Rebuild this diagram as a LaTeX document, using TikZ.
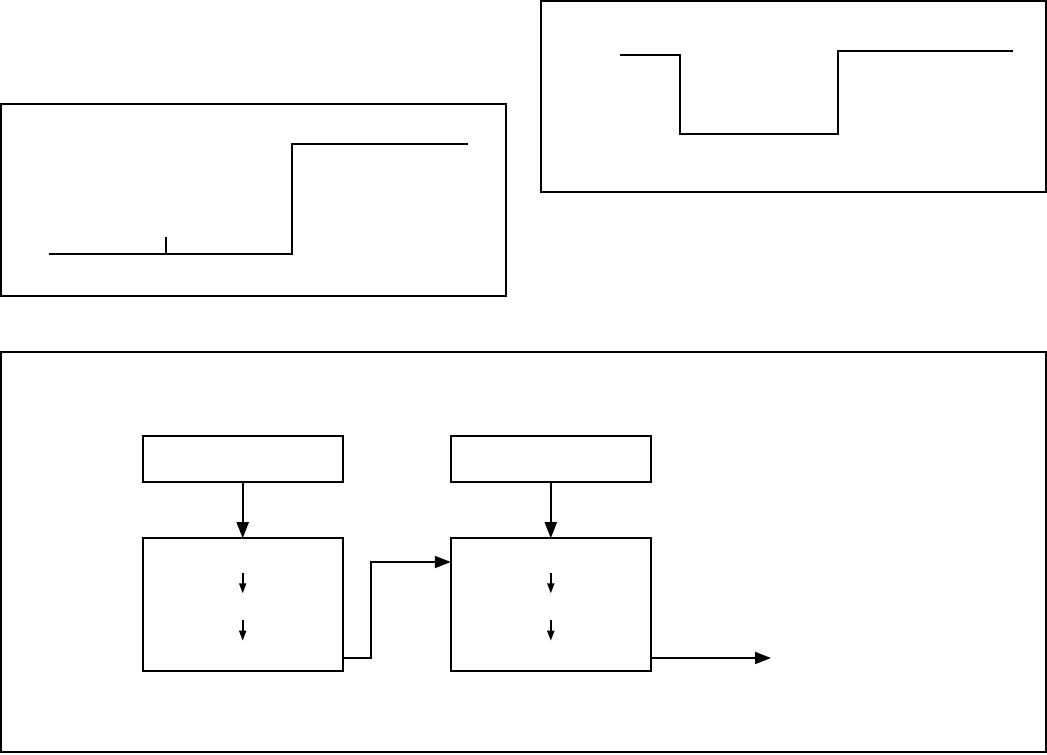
\documentclass[tikz,border=0pt]{standalone}
\usetikzlibrary{arrows.meta}

\tikzset{
  blk/.style={draw, line width=1.1pt, inner sep=0pt, outer sep=0pt, minimum width=4cm},
  conn/.style={line width=1.1pt, -{Triangle[length=0.32cm,width=0.24cm]}},
  smallarr/.style={line width=1pt, -{Triangle[length=0.2cm,width=0.14cm]}}
}

\begin{document}
\begin{tikzpicture}[x=0.02cm,y=-0.02cm]
\useasboundingbox (0,0) rectangle (1047,754);

% top left panel: single step
\draw[line width=1.1pt] (1,104) rectangle (506,296);
\draw[line width=1pt] (49,254) -- (292,254) -- (292,144) -- (468,144);
\draw[line width=1pt] (166,254) -- (166,237);

% top right panel: dip
\draw[line width=1.1pt] (541,1) rectangle (1046,192);
\draw[line width=1pt] (620,54.7) -- (679.7,54.7) -- (679.7,133.7)
  -- (837.7,133.7) -- (837.7,50.7) -- (1012.7,50.7);

% bottom panel: two stages
\draw[line width=1.1pt] (1,352) rectangle (1046,752);

\node[blk, minimum height=0.93cm] (topA) at (242.7,459) {};
\node[blk, minimum height=2.66cm] (lowA) at (242.7,604.7) {};
\node[blk, minimum height=0.93cm] (topB) at (550.8,459) {};
\node[blk, minimum height=2.66cm] (lowB) at (550.8,604.7) {};

\draw[conn] (topA) -- (lowA);
\draw[conn] (topB) -- (lowB);

% arrows inside the stages
\coordinate (a1) at (242.7,573.3); \coordinate (a2) at (242.7,593.3);
\coordinate (a3) at (242.7,620);   \coordinate (a4) at (242.7,640.7);
\coordinate (b1) at (550.8,573.3); \coordinate (b2) at (550.8,593.3);
\coordinate (b3) at (550.8,620);   \coordinate (b4) at (550.8,640.7);
\draw[smallarr] (a1) -- (a2);
\draw[smallarr] (a3) -- (a4);
\draw[smallarr] (b1) -- (b2);
\draw[smallarr] (b3) -- (b4);

% link and output
\coordinate (outA) at (lowA.east |- 0,658);
\coordinate (inB) at (lowB.west |- 0,562);
\coordinate (outB) at (lowB.east |- 0,658);
\coordinate (out) at (771,658);
\draw[conn] (outA) -- (371,658) |- (inB);
\draw[conn] (outB) -- (out);
\end{tikzpicture}
\end{document}
